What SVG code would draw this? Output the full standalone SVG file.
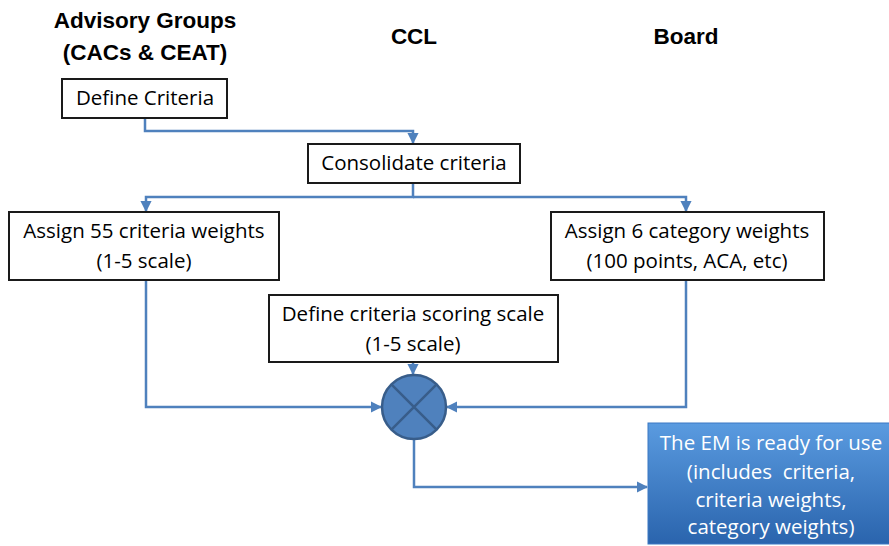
<svg xmlns="http://www.w3.org/2000/svg" width="889" height="546" viewBox="0 0 889 546">
<style>
  .hdr{font-family:"Liberation Sans",Arial,sans-serif;font-weight:bold;font-size:22.5px;fill:#000;text-anchor:middle}
  .box{fill:#fff;stroke:#1a1a1a;stroke-width:2}
  .t{font-family:"Open Sans","Liberation Sans",Arial,sans-serif;font-size:20.5px;fill:#000;text-anchor:middle}
  .tw{font-family:"Open Sans","Liberation Sans",Arial,sans-serif;font-size:20.5px;fill:#fff;text-anchor:middle;white-space:pre}
  .ln{fill:none;stroke:#4f81bd;stroke-width:2.5}
</style>
<defs>
  <marker id="ah" viewBox="0 0 10 10" refX="9" refY="5" markerWidth="4.5" markerHeight="4.5" orient="auto" markerUnits="strokeWidth">
    <path d="M0,0 L10,5 L0,10 z" fill="#4f81bd"/>
  </marker>
  <linearGradient id="g" x1="0" y1="0" x2="0" y2="1">
    <stop offset="0" stop-color="#5a9be0"/>
    <stop offset="1" stop-color="#2a64ad"/>
  </linearGradient>
</defs>
<g id="headers">
  <text class="hdr" x="145" y="28">Advisory Groups</text>
  <text class="hdr" x="145" y="60">(CACs &amp; CEAT)</text>
  <text class="hdr" x="414" y="44">CCL</text>
  <text class="hdr" x="686" y="44">Board</text>
</g>
<g id="connectors">
  <path class="ln" d="M145,118 V131 H413 V143" marker-end="url(#ah)"/>
  <path class="ln" d="M413,183 V197 H146 V211" marker-end="url(#ah)"/>
  <path class="ln" d="M413,197 H686 V211" marker-end="url(#ah)"/>
  <path class="ln" d="M413,362 V374" marker-end="url(#ah)"/>
  <path class="ln" d="M146,280 V407 H381" marker-end="url(#ah)"/>
  <path class="ln" d="M686,280 V407 H447" marker-end="url(#ah)"/>
  <path class="ln" d="M414,439 V487 H647" marker-end="url(#ah)"/>
</g>
<g id="define-criteria">
  <rect class="box" x="62" y="79" width="165" height="39"/>
  <text class="t" x="145" y="105">Define Criteria</text>
</g>
<g id="consolidate">
  <rect class="box" x="308" y="144" width="212" height="39"/>
  <text class="t" x="414" y="170">Consolidate criteria</text>
</g>
<g id="assign-criteria">
  <rect class="box" x="9" y="212" width="270" height="68"/>
  <text class="t" x="144" y="238">Assign 55 criteria weights</text>
  <text class="t" x="144" y="268">(1-5 scale)</text>
</g>
<g id="assign-category">
  <rect class="box" x="551" y="212" width="273" height="68"/>
  <text class="t" x="687" y="238">Assign 6 category weights</text>
  <text class="t" x="687" y="268">(100 points, ACA, etc)</text>
</g>
<g id="scoring-scale">
  <rect class="box" x="269" y="295" width="289" height="67"/>
  <text class="t" x="413" y="321">Define criteria scoring scale</text>
  <text class="t" x="413" y="351">(1-5 scale)</text>
</g>
<g id="combine">
  <circle cx="414" cy="407" r="32" fill="#4f81bd" stroke="#385d8a" stroke-width="2.5"/>
  <path d="M391.4,384.4 L436.6,429.6 M436.6,384.4 L391.4,429.6" stroke="#385d8a" stroke-width="2.5"/>
</g>
<g id="em-ready">
  <rect x="648" y="423" width="245" height="121" fill="url(#g)" stroke="#3a78c4" stroke-width="1"/>
  <text class="tw" x="771" y="450">The EM is ready for use</text>
  <text class="tw" x="771" y="479">(includes  criteria,</text>
  <text class="tw" x="771" y="507">criteria weights,</text>
  <text class="tw" x="771" y="534">category weights)</text>
</g>
</svg>
